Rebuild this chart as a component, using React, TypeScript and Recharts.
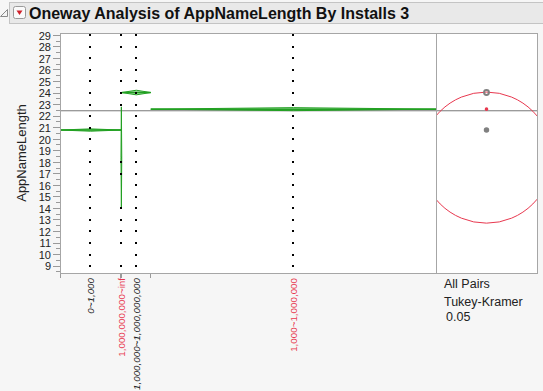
import React from 'react';
import { ComposedChart, Scatter, XAxis, YAxis, ReferenceLine, Label } from 'recharts';

// ---------- data ----------
const categories = ['0~1,000', '1,000,000,000~inf', '1,000,000~1,000,000,000', '1,000~1,000,000'];
const groupCounts = [1565, 20, 745, 7320];
const groupMeans = [20.79, 18.4, 24.04, 22.6];
const groupCIHalf = [0.1, 4.4, 0.2, 0.13];
const circleRadii = [0.15, 5.68, 0.21, 0.07];
const highlighted = [false, true, false, true];
const grandMean = 22.46;

const dotsA = [9, 10, 11, 12, 13, 14, 15, 16, 17, 18, 19, 20, 21, 22, 23, 24, 25, 26, 27, 28, 29];
const dotsB = [9, 11, 12, 13, 14, 17, 18, 23, 24, 25, 26, 28, 29];
const dotsC = [9, 10, 11, 12, 13, 14, 15, 16, 17, 18, 19, 20, 21, 22, 23, 24, 25, 26, 27, 28, 29];
const dotsD = [9, 10, 11, 12, 13, 14, 15, 16, 17, 18, 19, 20, 21, 22, 23, 24, 25, 26, 27, 28, 29];
const groupDots = [dotsA, dotsB, dotsC, dotsD];

const yTickLabels = [9, 10, 11, 12, 13, 14, 15, 16, 17, 18, 19, 20, 21, 22, 23, 24, 25, 26, 27, 28, 29];
const Y_MIN = 8.4;
const Y_MAX = 29.2;

const titleText = 'Oneway Analysis of AppNameLength By Installs 3';
const yAxisTitle = 'AppNameLength';
const panelLines = ['All Pairs', 'Tukey-Kramer', '0.05'];

// ---------- layout ----------
const W = 543;
const H = 391;
const PLOT_TOP = 33;
const PLOT_BOTTOM = 273;
const PLOT_LEFT = 60;
const DIVIDER = 436;
const PLOT_RIGHT = 537;
const FONT = '"Liberation Sans", Arial, sans-serif';
const RED = '#e8384f';
const GREEN = '#22a022';

// derived group geometry (in count units)
const starts: number[] = [];
groupCounts.reduce((acc, c, i) => {
  starts[i] = acc;
  return acc + c;
}, 0);
const total = groupCounts.reduce((a, b) => a + b, 0);
const ends = groupCounts.map((c, i) => starts[i] + c);
const centers = groupCounts.map((c, i) => starts[i] + c / 2);
const boundaries = [0, ...ends];
const xTicks = [...boundaries, ...centers];
const yTicks = yTickLabels.flatMap((v) => [v - 0.5, v]);

const diamonds = groupMeans.map((m, i) => [
  { x: starts[i], y: m },
  { x: centers[i], y: m + groupCIHalf[i] },
  { x: ends[i], y: m },
  { x: centers[i], y: m - groupCIHalf[i] },
  { x: starts[i], y: m },
]);
const meanLines = groupMeans.map((m, i) => [
  { x: starts[i], y: m },
  { x: ends[i], y: m },
]);
const dotData = groupDots.map((vals, i) => vals.map((v) => ({ x: centers[i], y: v })));
const circleData = groupMeans
  .map((m, i) => ({ x: 0, y: m, r: circleRadii[i], hl: highlighted[i] }))
  .sort((a, b) => b.r - a.r);

const PX_PER_UNIT = (PLOT_BOTTOM - PLOT_TOP) / (Y_MAX - Y_MIN);

// ---------- renderers ----------
const YTick = (props: any) => {
  const { x, y, payload } = props;
  const v = payload.value;
  const major = Math.abs(v - Math.round(v)) < 1e-6;
  return (
    <g>
      <line x1={x - (major ? 7 : 4)} x2={x} y1={y} y2={y} stroke="#9a9a9a" shapeRendering="crispEdges" />
      {major && (
        <text x={x - 9} y={y} dy="0.4em" textAnchor="end" fontSize={11} fill="#222" fontFamily={FONT}>
          {v}
        </text>
      )}
    </g>
  );
};

const XTick = (props: any) => {
  const { x, y, payload } = props;
  const v = payload.value;
  if (boundaries.indexOf(v) >= 0) {
    return <line x1={x} x2={x} y1={y} y2={y + (v === total ? 8 : 5)} stroke="#9a9a9a" shapeRendering="crispEdges" />;
  }
  const ci = centers.indexOf(v);
  if (ci < 0) return <g />;
  const bx = x + 3.5;
  const by = y + 5;
  return (
    <text
      x={bx}
      y={by}
      transform={`rotate(-90, ${bx}, ${by})`}
      textAnchor="end"
      fontSize={9.8}
      fontFamily={FONT}
      fontStyle={highlighted[ci] ? 'normal' : 'italic'}
      fill={highlighted[ci] ? RED : '#222'}
    >
      {categories[ci]}
    </text>
  );
};

const DotShape = (props: any) => {
  const { cx, cy } = props;
  return <rect x={cx - 1} y={cy - 1} width={2} height={2} fill="#000" shapeRendering="crispEdges" />;
};

const NoShape = () => <g />;

const CircleShape = (props: any) => {
  const { cx, cy } = props;
  const p = props.payload ?? props;
  let ppu = PX_PER_UNIT;
  const sc = props.yAxis?.scale;
  if (typeof sc === 'function') {
    const d = Math.abs(sc(p.y + 1) - sc(p.y));
    if (d > 0) ppu = d;
  }
  const r = p.r * ppu;
  const big = r > 10;
  const color = p.hl ? RED : '#808080';
  return (
    <circle
      cx={cx}
      cy={cy}
      r={r}
      fill={!big && r < 2 ? color : 'none'}
      stroke={color}
      strokeWidth={big ? 1 : 2}
    />
  );
};

const YTitle = (props: any) => {
  const vb = props.viewBox || {};
  const cy = (vb.y ?? PLOT_TOP) + (vb.height ?? PLOT_BOTTOM - PLOT_TOP) / 2;
  const bx = 26;
  return (
    <text x={bx} y={cy} transform={`rotate(-90, ${bx}, ${cy})`} textAnchor="middle" fontSize={13} fill="#222" fontFamily={FONT}>
      {yAxisTitle}
    </text>
  );
};

export default function App() {
  return (
    <div style={{ position: 'absolute', left: 0, top: 0, width: W, height: H, background: '#f6f6f6', overflow: 'hidden' }}>
      {/* title bar */}
      <div
        style={{
          position: 'absolute',
          left: 9,
          top: 2,
          width: W,
          height: 22,
          background: '#e9e9e9',
          border: '1px solid #c4c4c4',
          boxSizing: 'border-box',
        }}
      />
      {/* plot background */}
      <div
        style={{
          position: 'absolute',
          left: PLOT_LEFT,
          top: PLOT_TOP,
          width: PLOT_RIGHT - PLOT_LEFT,
          height: PLOT_BOTTOM - PLOT_TOP,
          background: '#fff',
        }}
      />
      <div style={{ position: 'absolute', left: 0, top: 0 }}>
        <ComposedChart width={DIVIDER} height={H} margin={{ top: PLOT_TOP, right: 0, bottom: 0, left: 0 }}>
          <XAxis
            type="number"
            dataKey="x"
            domain={[0, total]}
            allowDataOverflow
            ticks={xTicks}
            interval={0}
            tick={<XTick />}
            tickLine={false}
            axisLine={false}
            tickSize={0}
            tickMargin={0}
            height={H - PLOT_BOTTOM}
          />
          <YAxis
            type="number"
            dataKey="y"
            domain={[Y_MIN, Y_MAX]}
            allowDataOverflow
            ticks={yTicks}
            interval={0}
            tick={<YTick />}
            tickLine={false}
            axisLine={false}
            tickSize={0}
            tickMargin={0}
            width={PLOT_LEFT}
          >
            <Label content={<YTitle />} />
          </YAxis>
          <ReferenceLine y={grandMean} stroke="#777" strokeWidth={1} />
          {diamonds.map((d, i) => (
            <Scatter
              key={'dia' + i}
              data={d}
              shape={<NoShape />}
              line={{ stroke: GREEN, strokeWidth: 1, fill: 'rgba(60,175,60,0.45)' }}
              lineJointType="linear"
              isAnimationActive={false}
            />
          ))}
          {meanLines.map((d, i) => (
            <Scatter
              key={'ml' + i}
              data={d}
              shape={<NoShape />}
              line={{ stroke: GREEN, strokeWidth: 1.5 }}
              lineJointType="linear"
              isAnimationActive={false}
            />
          ))}
          {dotData.map((d, i) => (
            <Scatter key={'dots' + i} data={d} shape={<DotShape />} isAnimationActive={false} />
          ))}
        </ComposedChart>
      </div>
      <div style={{ position: 'absolute', left: DIVIDER, top: 0, width: PLOT_RIGHT - DIVIDER, height: H, overflow: 'hidden' }}>
        <ComposedChart width={PLOT_RIGHT - DIVIDER} height={H} margin={{ top: PLOT_TOP, right: 0, bottom: H - PLOT_BOTTOM, left: 0 }}>
          <XAxis type="number" dataKey="x" domain={[-1, 1]} allowDataOverflow hide />
          <YAxis type="number" dataKey="y" domain={[Y_MIN, Y_MAX]} allowDataOverflow hide />
          <ReferenceLine y={grandMean} stroke="#777" strokeWidth={1} />
          <Scatter data={circleData} shape={<CircleShape />} isAnimationActive={false} />
        </ComposedChart>
      </div>
      {/* frame */}
      <div
        style={{
          position: 'absolute',
          left: PLOT_LEFT,
          top: PLOT_TOP,
          width: PLOT_RIGHT - PLOT_LEFT + 1,
          height: PLOT_BOTTOM - PLOT_TOP + 1,
          border: '1px solid #a6a6a6',
          boxSizing: 'border-box',
          pointerEvents: 'none',
        }}
      />
      <div
        style={{
          position: 'absolute',
          left: DIVIDER,
          top: PLOT_TOP,
          width: 1,
          height: PLOT_BOTTOM - PLOT_TOP,
          background: '#a6a6a6',
          pointerEvents: 'none',
        }}
      />
      <svg width={W} height={H} style={{ position: 'absolute', left: 0, top: 0, pointerEvents: 'none' }}>
        <polygon points="7.5,9.5 7.5,16.5 0.5,16.5" fill="#f4f4f4" stroke="#8a8a8a" strokeWidth={1} />
        <rect x={13.5} y={6.5} width={12} height={12} rx={2} fill="#fafafa" stroke="#9a9a9a" />
        <polygon points="16.5,10.5 22.5,10.5 19.5,15" fill="#d0202a" />
        <text x={29} y={18.7} fontSize={16} fontWeight="bold" fill="#111" fontFamily={FONT}>
          {titleText}
        </text>
        <text x={444} y={288.3} fontSize={12.5} fill="#222" fontFamily={FONT}>
          {panelLines[0]}
        </text>
        <text x={444} y={305.7} fontSize={12.5} fill="#222" fontFamily={FONT}>
          {panelLines[1]}
        </text>
        <text x={446} y={320.5} fontSize={12.5} fill="#222" fontFamily={FONT}>
          {panelLines[2]}
        </text>
      </svg>
    </div>
  );
}
